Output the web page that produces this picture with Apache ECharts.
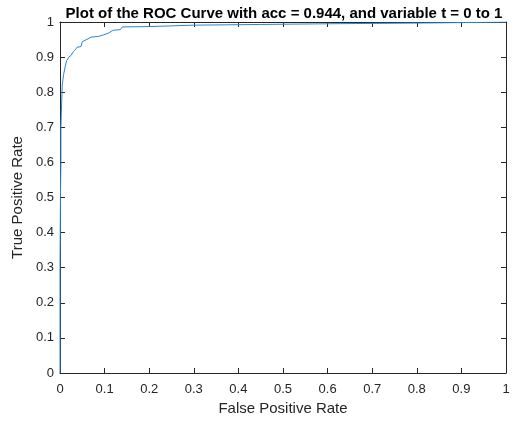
<!DOCTYPE html>
<html>
<head>
<meta charset="utf-8">
<script src="https://cdn.jsdelivr.net/npm/echarts@6/dist/echarts.min.js"></script>
<style>html,body{margin:0;padding:0;background:#fff;}#c{width:513px;height:421px;}</style>
</head>
<body>
<div id="c"></div>
<script>
var titleText = 'Plot of the ROC Curve with acc = 0.944, and variable t = 0 to 1';
var xLabel = 'False Positive Rate';
var yLabel = 'True Positive Rate';
var fpr = [0, 0, 0.001, 0.002, 0.002, 0.003, 0.005, 0.008, 0.012, 0.015, 0.02, 0.025, 0.03, 0.035, 0.038, 0.047, 0.05, 0.053, 0.063, 0.07, 0.086, 0.097, 0.108, 0.117, 0.122, 0.135, 0.14, 0.2, 0.3, 0.45, 0.6, 0.8, 0.95, 1];
var tpr = [0, 0.3, 0.5, 0.6, 0.7, 0.74, 0.82, 0.85, 0.875, 0.89, 0.9, 0.905, 0.916, 0.922, 0.928, 0.93, 0.944, 0.946, 0.952, 0.957, 0.959, 0.963, 0.968, 0.975, 0.977, 0.978, 0.986, 0.987, 0.991, 0.993, 0.995, 0.997, 0.999, 1];

var pts = fpr.map(function (v, i) { return [v, tpr[i]]; });
var font = 'Liberation Sans, Arial, sans-serif';
var axColor = '#262626';
function axisCommon(showLabel) {
  return {
    type: 'value', min: 0, max: 1, interval: 0.1,
    axisLine: { show: true, onZero: false, lineStyle: { color: axColor, width: 1 } },
    axisTick: { show: true, inside: true, length: 5, lineStyle: { color: axColor } },
    axisLabel: { show: showLabel, color: axColor, fontSize: 13, fontFamily: font,
      formatter: function (v) { return String(Math.round(v * 10) / 10); } },
    splitLine: { show: false }
  };
}
var xB = axisCommon(true);
xB.position = 'bottom';
xB.axisLabel.margin = 10;
xB.name = xLabel; xB.nameLocation = 'middle'; xB.nameGap = 28;
xB.nameTextStyle = { color: axColor, fontSize: 15, fontFamily: font };
var xT = axisCommon(false); xT.position = 'top';
var yL = axisCommon(true);
yL.position = 'left';
yL.axisLabel.margin = 6;
yL.name = yLabel; yL.nameLocation = 'middle'; yL.nameGap = 26;
yL.nameTextStyle = { color: axColor, fontSize: 15, fontFamily: font };
var yR = axisCommon(false); yR.position = 'right';

var chart = echarts.init(document.getElementById('c'), null, { renderer: 'canvas' });
chart.setOption({
  animation: false,
  backgroundColor: '#fff',
  title: {
    text: titleText, left: 279, top: 1, textAlign: 'center',
    textStyle: { color: '#000', fontSize: 15, fontWeight: 'bold', fontFamily: font }
  },
  grid: { left: 60, right: 7, top: 22, bottom: 46 },
  xAxis: [xB, xT],
  yAxis: [yL, yR],
  series: [{
    type: 'line', data: pts, xAxisIndex: 0, yAxisIndex: 0,
    showSymbol: false, symbol: 'none',
    lineStyle: { color: '#2b86cc', width: 1 }
  }]
});
</script>
</body>
</html>
